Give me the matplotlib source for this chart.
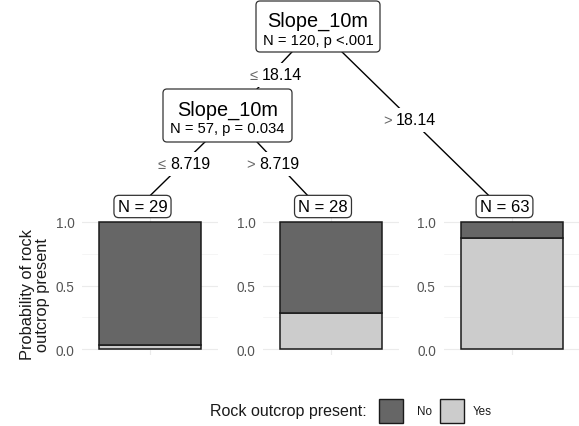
import matplotlib
matplotlib.use("Agg")
import matplotlib.pyplot as plt
from matplotlib.patches import FancyBboxPatch, Rectangle

plt.rcParams['font.family'] = ['Liberation Sans', 'DejaVu Sans']

# ---- data ----
classes = ["No", "Yes"]
class_colors = ["#666666", "#cccccc"]
split_var = "Slope_10m"
inner_n = [120, 57]
inner_p = ["p <.001", "p = 0.034"]
edge_ops = ["\u2264", ">", "\u2264", ">"]
edge_vals = ["18.14", "18.14", "8.719", "8.719"]
terminal_n = [29, 28, 63]
yes_prop = [0.034, 0.286, 0.873]
yticks = [0.0, 0.5, 1.0]
ytick_labels = ["0.0", "0.5", "1.0"]
ylabel = "Probability of rock\noutcrop present"
legend_title = "Rock outcrop present:"

W, H = 579, 427
fig = plt.figure(figsize=(W / 100, H / 100), dpi=100)

# ---- terminal panels ----
panel_left = [82, 263, 443.5]
panel_w = 136
ax_top, ax_bot = 216.6, 356.4
for i in range(3):
    ax = fig.add_axes([panel_left[i] / W, (H - ax_bot) / H, panel_w / W, (ax_bot - ax_top) / H])
    ax.set_xlim(0.4, 1.6)
    ax.set_ylim(-0.05, 1.05)
    p = yes_prop[i]
    ax.bar([1], [p], width=0.9, bottom=0, color=class_colors[1], edgecolor="#1a1a1a", linewidth=1.1, zorder=3)
    ax.bar([1], [1 - p], width=0.9, bottom=p, color=class_colors[0], edgecolor="#1a1a1a", linewidth=1.1, zorder=3)
    ax.set_yticks(yticks)
    ax.set_yticklabels(ytick_labels)
    ax.set_yticks([0.25, 0.75], minor=True)
    ax.set_xticks([1])
    ax.set_xticklabels([])
    ax.tick_params(axis="both", which="both", length=0, pad=5.5, labelsize=9.8, labelcolor="#555555")
    ax.grid(True, which="major", color="#ebebeb", linewidth=0.8, zorder=0)
    ax.grid(True, which="minor", axis="y", color="#f2f2f2", linewidth=0.5, zorder=0)
    for s in ax.spines.values():
        s.set_visible(False)
    ax.set_facecolor("none")

fig.text(35 / W, 1 - 295 / H, ylabel, rotation=90, ha="center", va="center",
         multialignment="center", fontsize=11.8, color="#1a1a1a", linespacing=1.05)

# ---- tree overlay ----
tx = fig.add_axes([0, 0, 1, 1], zorder=5)
tx.set_xlim(0, W)
tx.set_ylim(H, 0)
tx.axis("off")
tx.patch.set_alpha(0)

pt_root = (316, 27.5)
pt_n2 = (232, 116.5)
pt_term = [(139, 207.5), (318, 207.5), (500, 207.5)]
edges = [(pt_root, pt_n2), (pt_root, pt_term[2]), (pt_n2, pt_term[0]), (pt_n2, pt_term[1])]
for a, b in edges:
    tx.plot([a[0], b[0]], [a[1], b[1]], color="black", linewidth=1.0, zorder=1, solid_capstyle="butt")

# edge labels (x = left edge of the number, y = centre)
edge_lab_pos = [(262, 76), (396, 120.5), (170, 164.5), (259, 164.5)]
for (x, y), op, val in zip(edge_lab_pos, edge_ops, edge_vals):
    tx.add_patch(Rectangle((x - 17, y - 12), 60, 24, facecolor="white", edgecolor="none", zorder=2))
    tx.text(x - 4, y + 0.5, op, ha="right", va="center", fontsize=10.5, color="#666666", zorder=3)
    tx.text(x, y, val, ha="left", va="center", fontsize=11.5, color="black", zorder=3)

# inner node boxes
inner_boxes = [(256, 2, 380, 53), (163, 90, 292, 143)]
title_base = [26.7, 115.5]
stat_base = [45.5, 133]
for k, (x0, y0, x1, y1) in enumerate(inner_boxes):
    tx.add_patch(FancyBboxPatch((x0 + 4, y0 + 4), x1 - x0 - 8, y1 - y0 - 8,
                                boxstyle="round,pad=4,rounding_size=4",
                                facecolor="white", edgecolor="#333333", linewidth=0.9, zorder=4))
    cx = (x0 + x1) / 2
    tx.text(cx, title_base[k], split_var, ha="center", va="baseline", fontsize=14.3, zorder=5)
    tx.text(cx, stat_base[k], f"N = {inner_n[k]}, {inner_p[k]}", ha="center", va="baseline",
            fontsize=10.6, zorder=5)

# terminal labels
term_lab_x = [142.5, 323, 504.5]
for x, n in zip(term_lab_x, terminal_n):
    tx.text(x, 207.5, f"N = {n}", ha="center", va="center", fontsize=12, zorder=5,
            bbox=dict(boxstyle="round,pad=0.22,rounding_size=0.3", facecolor="white",
                      edgecolor="#333333", linewidth=0.9))

# legend
tx.text(367, 412, legend_title, ha="right", va="center", fontsize=11.5, color="#1a1a1a")
key_x = [379, 440]
lab_x = [417, 473]
for kx, lx, c, name in zip(key_x, lab_x, class_colors, classes):
    tx.add_patch(Rectangle((kx, 400), 24, 24, facecolor=c, edgecolor="#1a1a1a", linewidth=1.0))
    tx.text(lx, 412, name, ha="left", va="center", fontsize=8.4, color="#1a1a1a")

fig.savefig("out.png", dpi=100)
